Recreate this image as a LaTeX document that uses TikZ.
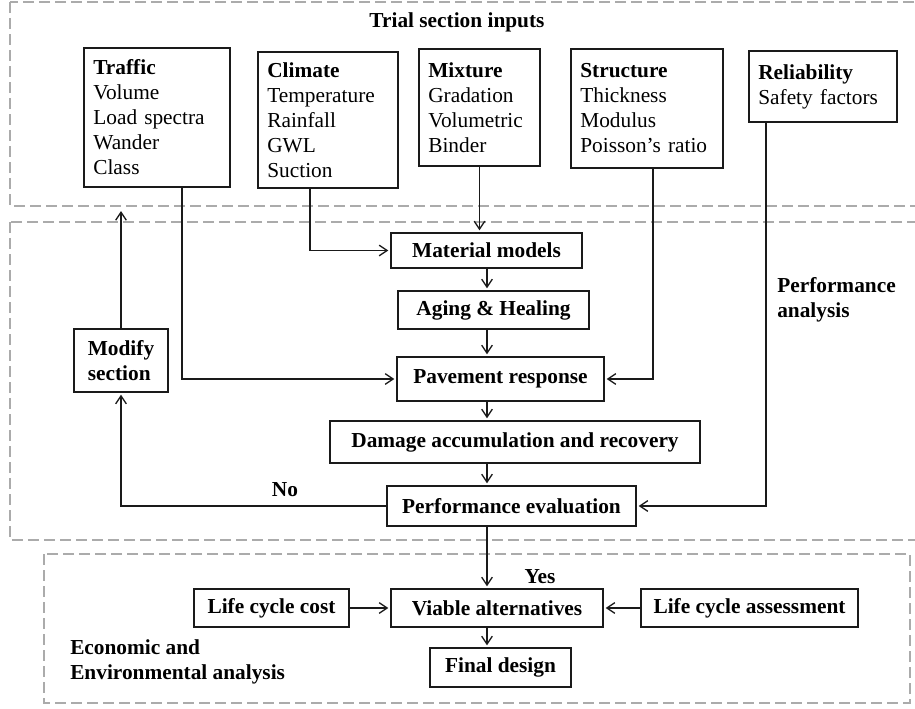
\documentclass[tikz,border=0pt]{standalone}
\usepackage{fontspec}
\setmainfont{Liberation Serif}
\usepackage{xcolor}
\usetikzlibrary{positioning,arrows.meta,calc}
\definecolor{ZoneC}{HTML}{ABABAB}
\definecolor{LineC}{HTML}{1A1A1A}
\newcommand{\dgfont}{\fontsize{16}{18.75}\selectfont}

\tikzset{
  zone/.style={ZoneC,line width=1.5pt,dash pattern=on 8pt off 4pt},
  box/.style={draw=LineC,line width=1pt,font=\dgfont\bfseries,inner sep=0pt},
  inbox/.style={draw=LineC,line width=1pt,font=\dgfont,align=left,inner xsep=7pt,inner ysep=0pt},
  lbl/.style={font=\dgfont\bfseries,inner sep=0pt},
  arr/.style={-{Straight Barb[length=6pt,width=8pt]},line width=1pt,LineC,shorten >=1.5pt},
}

\begin{document}
\begin{tikzpicture}[x=0.75pt,y=-0.75pt]
\useasboundingbox (0,0) rectangle (915,708);
\clip (0,0) rectangle (915,708);

% ---------- dashed zones ----------
\draw[zone] (10,2) rectangle (930,206);
\draw[zone] (10,222) rectangle (930,540);
\draw[zone] (44,554) rectangle (910,703);
\coordinate (trialbot) at (0,209);
\coordinate (spine) at (487,0);

% ---------- trial section inputs ----------
\node[lbl] (trialtitle) at (457,22) {Trial section inputs};
\node[inbox,text width=95.5pt,minimum height=104.25pt] (traffic) at (157,117.5)
  {\textbf{Traffic}\\Volume\\Load spectra\\Wander\\Class};
\node[inbox,text width=91pt,minimum height=102pt] (climate) at (328,120)
  {\textbf{Climate}\\Temperature\\Rainfall\\GWL\\Suction};
\node[inbox,text width=76.75pt,minimum height=87.75pt] (mixture) at (479.5,107.5)
  {\textbf{Mixture}\\Gradation\\Volumetric\\Binder};
\node[inbox,text width=100pt,minimum height=89.25pt] (structure) at (647,108.5)
  {\textbf{Structure}\\Thickness\\Modulus\\Poisson's ratio};
\node[inbox,text width=97pt,minimum height=53.25pt] (reliability) at (823,86.5)
  {\textbf{Reliability}\\Safety factors};

% ---------- performance analysis ----------
\node[lbl,align=left,anchor=west] (perftitle) at (777,300) {Performance\\analysis};
\node[box,minimum width=143.25pt,minimum height=26.25pt] (material) at (486.5,250.5) {Material models};
\node[box,minimum width=143.25pt,minimum height=28.5pt] (aging) at (493.5,310) {Aging \& Healing};
\node[box,minimum width=155.25pt,minimum height=33pt] (pavement) at (500.5,379) {Pavement response};
\node[box,minimum width=277.5pt,minimum height=31.5pt] (damage) at (515,442) {Damage accumulation and recovery};
\node[box,minimum width=186.75pt,minimum height=30pt] (perfeval) at (511.5,506) {Performance evaluation};
\node[box,align=left,minimum width=70.5pt,minimum height=47.25pt] (modify) at (121,360.5) {Modify\\section};
\node[lbl] (no) at (285,490) {No};

% ---------- economic and environmental analysis ----------
\node[lbl,align=left,anchor=west] (ecotitle) at (70,662) {Economic and\\Environmental analysis};
\node[lbl] (yes) at (540,577) {Yes};
\node[box,minimum width=116.25pt,minimum height=28.5pt] (lcc) at (271.5,608) {Life cycle cost};
\node[box,minimum width=159pt,minimum height=28.5pt] (viable) at (497,608) {Viable alternatives};
\node[box,minimum width=162.75pt,minimum height=28.5pt] (lca) at (749.5,608) {Life cycle assessment};
\node[box,minimum width=105.75pt,minimum height=29.25pt] (final) at (500.5,667.5) {Final design};

% ---------- connectors ----------
\draw[arr] (mixture.south) -- (mixture.south |- material.north);
\draw[arr] ([xshift=-13.5pt]climate.south) |- (material.west);
\draw[arr] ([xshift=18.75pt]traffic.south) |- (pavement.west);
\draw[arr] ([xshift=4.5pt]structure.south) |- (pavement.east);
\draw[arr] ([xshift=-42.75pt]reliability.south) |- (perfeval.east);
\draw[arr] (spine |- material.south) -- (spine |- aging.north);
\draw[arr] (spine |- aging.south) -- (spine |- pavement.north);
\draw[arr] (spine |- pavement.south) -- (spine |- damage.north);
\draw[arr] (spine |- damage.south) -- (spine |- perfeval.north);
\draw[arr] (spine |- perfeval.south) -- (spine |- viable.north);
\draw[arr] (perfeval.west) -| (modify.south);
\draw[arr] (modify.north) -- (modify.north |- trialbot);
\draw[arr] (lcc.east) -- (viable.west);
\draw[arr] (lca.west) -- (viable.east);
\draw[arr] (spine |- viable.south) -- (spine |- final.north);
\end{tikzpicture}
\end{document}
